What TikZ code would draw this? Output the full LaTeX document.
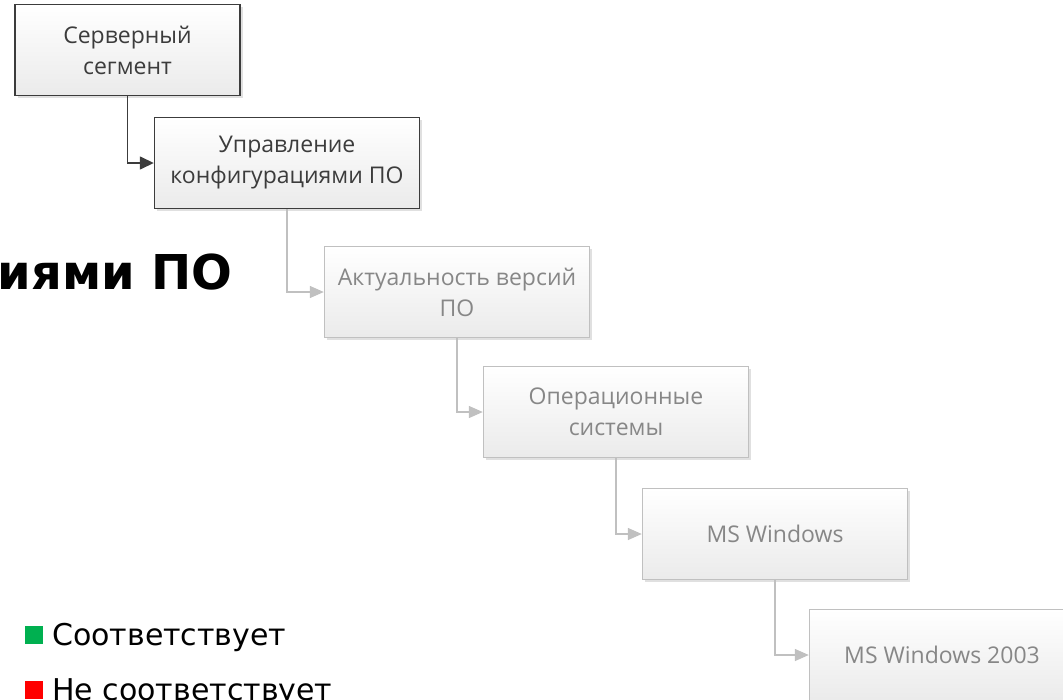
\documentclass[tikz,border=0pt]{standalone}
\usepackage{fontspec}
\setmainfont{Open Sans}
\newfontfamily\legendfont{DejaVu Sans}
\usepackage{tikz}
\usetikzlibrary{arrows.meta,shadows}
\usepackage{xcolor}
\definecolor{boxdark}{RGB}{60,60,60}
\definecolor{boxlight}{RGB}{192,192,192}
\definecolor{txtlight}{RGB}{135,135,135}
\definecolor{okgreen}{RGB}{0,176,80}
\definecolor{badred}{RGB}{255,0,0}
\tikzstyle{box} = [draw, line width=1.4pt, minimum width=265pt, minimum height=91pt, align=center, top color=white, bottom color=black!8, font=\fontsize{23}{31}\selectfont, drop shadow={shadow xshift=2.5pt, shadow yshift=-2.5pt, fill=black!12, opacity=1}]
\tikzstyle{boxon} = [box, draw=boxdark, text=boxdark]
\tikzstyle{boxoff} = [box, draw=boxlight, text=txtlight]
\tikzstyle{linkon} = [line width=1.5pt, color=boxdark, -{Triangle[length=14pt,width=13pt]}]
\tikzstyle{linkoff} = [line width=1.4pt, color=boxlight, -{Triangle[length=14pt,width=12pt]}]
\tikzstyle{legend} = [anchor=base west, inner sep=0pt, font=\legendfont\fontsize{30}{36}\selectfont]

\begin{document}
\begin{tikzpicture}[x=1pt, y=-1pt]
\useasboundingbox (0,0) rectangle (1063,699);
% Title
\node[anchor=base east, inner sep=0pt, font=\legendfont\bfseries\fontsize{48}{52}\selectfont] (title) at (233,289) {иями ПО};

% Boxes
\node[boxon, minimum width=225pt] (srv) at (127.5,50) {Серверный\\сегмент};
\node[boxon] (cfg) at (287,163) {Управление\\конфигурациями ПО};
\node[boxoff] (ver) at (457,292) {Актуальность версий\\ПО};
\node[boxoff] (os) at (616,412) {Операционные\\системы};
\node[boxoff] (win) at (775,534) {MS Windows};
\node[boxoff] (w2003) at (942,655) {MS Windows 2003};

% Links
\draw[linkon] (srv.south) |- (cfg.west);
\draw[linkoff] (cfg.south) |- (ver.west);
\draw[linkoff] (ver.south) |- (os.west);
\draw[linkoff] (os.south) |- (win.west);
\draw[linkoff] (win.south) |- (w2003.west);

% Legend
\node[fill=okgreen, minimum size=18pt, inner sep=0pt] (okmark) at (34,634.5) {};
\node[legend] (oktext) at (52,645) {Соответствует};
\node[fill=badred, minimum size=18pt, inner sep=0pt] (badmark) at (34,690) {};
\node[legend] (badtext) at (52,700) {Не соответствует};
\end{tikzpicture}
\end{document}
